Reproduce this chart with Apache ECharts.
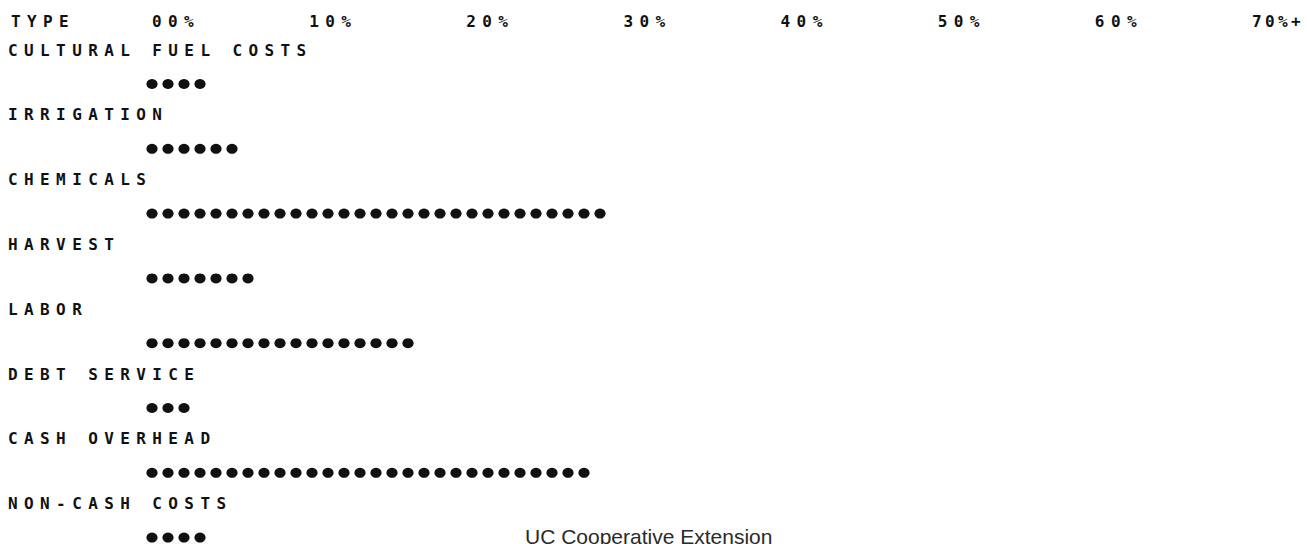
<!DOCTYPE html>
<html>
<head>
<meta charset="utf-8">
<script src="https://cdn.jsdelivr.net/npm/echarts@6/dist/echarts.min.js"></script>
<style>
  html, body { margin: 0; padding: 0; background: #ffffff; }
  #chart { width: 1307px; height: 544px; }
  #chart text[style*="Mono"] { letter-spacing: 6.4px; }
  #chart text[style*="MonoLast"] { letter-spacing: 3.4px; }
</style>
</head>
<body>
<div id="chart"></div>
<script>
// ---- data ----
var categories = ['CULTURAL FUEL COSTS', 'IRRIGATION', 'CHEMICALS', 'HARVEST', 'LABOR', 'DEBT SERVICE', 'CASH OVERHEAD', 'NON-CASH COSTS'];
var percents = [4, 6, 29, 7, 17, 3, 28, 4];
var tickValues = [0, 10, 20, 30, 40, 50, 60, 70];
var tickLabels = ['00%', '10%', '20%', '30%', '40%', '50%', '60%', '70%+'];
var headerTitle = 'TYPE';
var footerText = 'UC Cooperative Extension';

var MONO = 'DejaVu Sans Mono';
var INK = '#111111';

var chart = echarts.init(document.getElementById('chart'), null, { renderer: 'svg' });

chart.setOption({
  backgroundColor: '#ffffff',
  animation: false,
  title: [
    {
      text: headerTitle, left: 11, top: 13, padding: 0,
      textStyle: { fontFamily: MONO, fontWeight: 'bold', fontSize: 16, lineHeight: 16, color: INK }
    },
    {
      text: footerText, left: 525, top: 526, padding: 0,
      textStyle: { fontFamily: 'Liberation Sans', fontWeight: 'normal', fontSize: 21, lineHeight: 21, color: '#2a2a2a' }
    }
  ],
  grid: [
    { left: 152, right: 55, top: 0, height: 13 },
    { left: 144, width: 1152, top: 84, height: 453.6 }
  ],
  xAxis: [
    {
      gridIndex: 0, type: 'value', position: 'bottom',
      min: tickValues[0], max: tickValues[tickValues.length - 1], interval: 10,
      axisLine: { show: false }, axisTick: { show: false }, splitLine: { show: false },
      axisLabel: {
        margin: 8, align: 'left', verticalAlign: 'middle',
        fontFamily: MONO, fontWeight: 'bold', fontSize: 16, color: INK,
        showMinLabel: true, showMaxLabel: true,
        formatter: function (v) {
          var i = tickValues.indexOf(v);
          if (i < 0) return '';
          return i === tickValues.length - 1 ? '{last|' + tickLabels[i] + '}' : tickLabels[i];
        },
        rich: {
          last: { fontFamily: MONO + ', MonoLast', fontWeight: 'bold', fontSize: 16, color: INK }
        }
      }
    },
    {
      gridIndex: 1, type: 'value', min: 0, max: 72, show: false
    }
  ],
  yAxis: [
    { gridIndex: 0, type: 'value', show: false },
    {
      gridIndex: 1, type: 'category', data: categories, inverse: true, boundaryGap: false,
      axisLine: { show: false }, axisTick: { show: false }, splitLine: { show: false },
      axisLabel: {
        interval: 0, showMinLabel: true, showMaxLabel: true, hideOverlap: false,
        align: 'left', verticalAlign: 'bottom', margin: 136,
        lineHeight: 68,
        fontFamily: MONO, fontWeight: 'bold', fontSize: 16, color: INK
      }
    }
  ],
  series: [
    {
      type: 'pictorialBar',
      xAxisIndex: 1, yAxisIndex: 1,
      data: percents,
      symbol: 'circle',
      symbolSize: [11, 10],
      symbolRepeat: true,
      symbolMargin: '2.5!',
      itemStyle: { color: INK },
      silent: true
    }
  ]
});
</script>
</body>
</html>
